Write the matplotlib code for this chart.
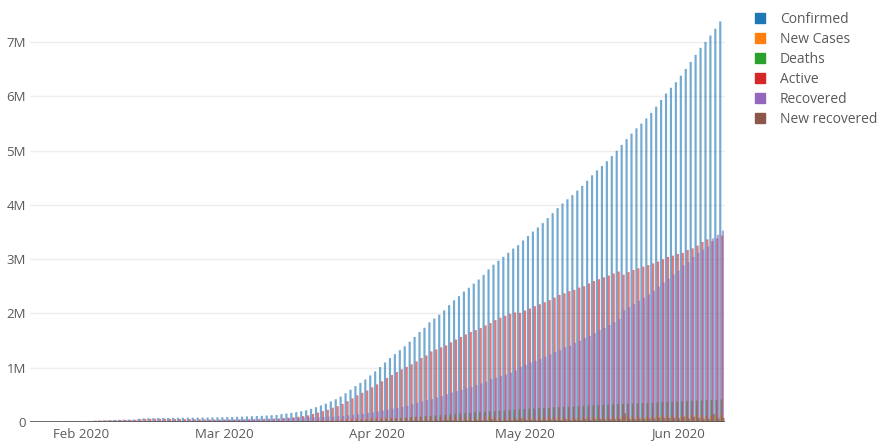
import matplotlib
matplotlib.use("Agg")
import matplotlib.pyplot as plt
import matplotlib.dates as mdates
from matplotlib.patches import Patch
from matplotlib.ticker import FixedLocator, FuncFormatter
import pandas as pd
import numpy as np

plt.rcParams['font.family'] = ['Open Sans', 'DejaVu Sans']

start_date = "2020-01-22"
end_date = "2020-06-10"

series_names = ["Confirmed", "New Cases", "Deaths", "Active", "Recovered", "New recovered"]
series_colors = ["#1f77b4", "#ff7f0e", "#2ca02c", "#d62728", "#9467bd", "#8c564b"]

# all values in thousands of people, one per day from Jan 22 to Jun 10 2020
confirmed_k = [
    0.555, 0.654, 0.941, 1.434, 2.118, 2.927, 5.578, 6.166, 8.234, 9.927,
    12.038, 16.787, 19.881, 23.892, 27.635, 30.794, 34.391, 37.120, 40.150, 42.762,
    44.802, 45.221, 60.368, 66.885, 69.030, 71.224, 73.258, 75.136, 75.639, 76.197,
    76.819, 78.572, 78.958, 79.561, 80.406, 81.388, 82.746, 84.112, 86.011,
    88.369, 90.306, 92.840, 95.120, 97.886, 101.801, 105.847, 109.821, 113.590, 118.620,
    125.875, 128.352, 145.205, 156.101, 167.454, 181.574, 197.102, 214.821, 242.570, 272.208,
    304.507, 336.953, 378.235, 418.045, 467.653, 529.591, 593.291, 660.706, 720.117, 782.365,
    857.487,
    932.605, 1013.157, 1095.917, 1176.060, 1249.754, 1321.481, 1396.476, 1479.804, 1565.278, 1657.526,
    1735.650, 1834.721, 1904.838, 1976.191, 2056.054, 2152.437, 2240.190, 2317.759, 2401.378, 2472.259,
    2549.123, 2623.960, 2708.885, 2811.193, 2896.746, 2971.475, 3041.764, 3116.398, 3193.886, 3256.846,
    3343.777, 3427.343, 3506.729, 3583.055, 3662.691, 3755.341, 3845.718, 3938.064, 4024.009, 4101.699,
    4177.502, 4261.747, 4347.018, 4442.163, 4542.347, 4634.068, 4713.620, 4801.943, 4897.492, 4996.472,
    5102.424, 5210.817, 5310.362, 5407.613, 5495.061, 5589.626, 5691.790, 5808.946, 5930.111, 6049.535,
    6155.064,
    6256.969, 6379.162, 6500.651, 6631.200, 6760.872, 6890.121, 7000.190, 7118.180, 7242.201, 7376.000,
]

new_cases_k = [
    0.0, 0.1, 0.3, 0.5, 0.7, 0.8, 2.7, 0.6, 2.1, 1.7,
    2.1, 4.7, 3.1, 4.0, 3.7, 3.2, 3.6, 2.7, 3.0, 2.6,
    2.0, 0.4, 15.1, 6.5, 2.1, 2.2, 2.0, 1.9, 0.5, 0.6,
    0.6, 1.8, 0.4, 0.6, 0.8, 1.0, 1.4, 1.4, 1.9,
    2.4, 1.9, 2.5, 2.3, 2.8, 3.9, 4.0, 4.0, 3.8, 5.0,
    7.3, 2.5, 16.9, 10.9, 11.4, 14.1, 15.5, 17.7, 27.7, 29.6,
    32.3, 32.4, 41.3, 39.8, 49.6, 61.9, 63.7, 67.4, 59.4, 62.2,
    75.1,
    75.1, 80.6, 82.8, 80.1, 73.7, 71.7, 75.0, 83.3, 85.5, 92.2,
    78.1, 99.1, 70.1, 71.4, 79.9, 96.4, 87.8, 77.6, 83.6, 70.9,
    76.9, 74.8, 84.9, 102.3, 85.6, 74.7, 70.3, 74.6, 77.5, 63.0,
    86.9, 83.6, 79.4, 76.3, 79.6, 92.7, 90.4, 92.3, 85.9, 77.7,
    75.8, 84.2, 85.3, 95.1, 100.2, 91.7, 79.6, 88.3, 95.5, 99.0,
    106.0, 108.4, 99.5, 97.3, 87.4, 94.6, 102.2, 117.2, 121.2, 119.4,
    105.5,
    101.9, 122.2, 121.5, 130.5, 129.7, 129.2, 110.1, 118.0, 124.0, 133.8,
]

deaths_k = [
    0.017, 0.018, 0.026, 0.042, 0.056, 0.082, 0.131, 0.133, 0.171, 0.213,
    0.259, 0.362, 0.426, 0.492, 0.564, 0.634, 0.719, 0.806, 0.906, 1.013,
    1.113, 1.118, 1.371, 1.523, 1.666, 1.770, 1.868, 2.007, 2.122, 2.247,
    2.251, 2.458, 2.469, 2.629, 2.708, 2.770, 2.814, 2.872, 2.941,
    2.996, 3.085, 3.160, 3.254, 3.348, 3.460, 3.558, 3.802, 3.988, 4.262,
    4.615, 4.720, 5.404, 5.819, 6.440, 7.126, 7.905, 8.733, 9.867, 11.299,
    12.973, 14.623, 16.497, 18.615, 21.181, 23.970, 27.198, 30.652, 33.925, 37.582,
    42.107,
    46.809, 52.983, 58.787, 64.606, 69.374, 74.565, 81.865, 88.338, 95.455, 102.525,
    108.503, 114.091, 119.481, 125.983, 134.176, 143.800, 153.821, 159.509, 165.044, 169.986,
    176.583, 183.027, 190.858, 197.159, 202.846, 206.568, 211.167, 217.153, 227.638, 233.388,
    238.650, 243.808, 247.470, 251.537, 257.239, 263.855, 269.567, 274.898, 279.311, 282.709,
    286.330, 291.942, 297.197, 302.418, 307.666, 311.781, 315.185, 318.481, 323.285, 328.115,
    332.924, 338.160, 342.097, 345.059, 346.232, 350.453, 355.629, 360.308, 364.867, 369.126,
    372.037,
    375.543, 380.249, 385.947, 391.136, 395.779, 399.847, 403.094, 406.543, 411.484, 416.201,
]

active_k = [
    0.5, 0.6, 0.9, 1.4, 2.0, 2.8, 5.3, 5.9, 7.9, 9.5,
    11.5, 16.0, 18.8, 22.5, 25.9, 28.7, 31.7, 33.7, 36.0, 37.8,
    39.0, 39.0, 52.7, 57.3, 58.0, 58.6, 58.8, 58.8, 57.4, 55.8,
    55.7, 53.2, 53.1, 51.7, 49.8, 48.2, 46.7, 44.5, 43.3,
    42.7, 41.6, 41.5, 40.7, 40.7, 42.5, 43.9, 45.3, 47.1, 50.0,
    54.3, 55.3, 69.6, 77.7, 85.0, 96.4, 108.4, 122.9, 147.8, 173.7,
    200.0, 224.4, 263.4, 291.5, 332.9, 383.5, 435.1, 490.6, 537.1, 580.2,
    637.3,
    692.6, 749.9, 811.3, 865.3, 920.4, 970.4, 1014.6, 1062.8, 1115.8, 1178.9,
    1225.0, 1298.9, 1336.7, 1375.9, 1410.9, 1466.5, 1518.0, 1565.9, 1612.4, 1656.5,
    1692.1, 1730.7, 1778.8, 1823.4, 1876.2, 1919.8, 1956.9, 1992.3, 2017.8, 2009.5,
    2052.7, 2090.4, 2134.0, 2168.8, 2206.6, 2246.1, 2291.4, 2341.1, 2369.1, 2410.0,
    2435.0, 2476.4, 2501.3, 2551.9, 2597.6, 2629.1, 2664.5, 2696.6, 2735.2, 2770.9,
    2712.9, 2760.5, 2799.7, 2830.8, 2861.9, 2889.1, 2920.2, 2955.4, 2996.2, 3039.4,
    3064.3,
    3094.4, 3115.5, 3168.7, 3198.0, 3250.4, 3316.3, 3364.3, 3330.5, 3382.0, 3433.8,
]

recovered_k = [
    0.028, 0.030, 0.036, 0.039, 0.052, 0.061, 0.107, 0.126, 0.143, 0.222,
    0.284, 0.472, 0.623, 0.852, 1.124, 1.487, 2.011, 2.616, 3.244, 3.946,
    4.683, 5.150, 6.295, 8.058, 9.395, 10.865, 12.583, 14.352, 16.121, 18.177,
    18.890, 22.886, 23.394, 25.227, 27.905, 30.384, 33.277, 36.711, 39.782,
    42.716, 45.602, 48.228, 51.170, 53.796, 55.865, 58.358, 60.694, 62.494, 64.404,
    67.003, 68.324, 70.251, 72.624, 76.034, 78.088, 80.840, 83.207, 84.854, 87.256,
    91.499, 97.899, 98.351, 107.890, 113.604, 122.150, 130.986, 139.415, 149.082, 164.566,
    178.034,
    193.177, 210.263, 225.796, 246.152, 260.012, 276.515, 300.054, 328.661, 353.975, 376.096,
    402.110, 421.722, 448.655, 474.261, 511.019, 542.107, 568.343, 592.319, 623.903, 645.738,
    680.400, 710.263, 739.273, 790.597, 817.722, 845.066, 873.726, 906.989, 948.425, 1013.921,
    1052.415, 1093.112, 1125.236, 1162.724, 1198.832, 1245.413, 1284.741, 1322.050, 1375.624, 1408.980,
    1456.209, 1493.414, 1548.547, 1587.893, 1637.067, 1693.197, 1733.963, 1786.875, 1838.995, 1897.466,
    2056.643, 2112.185, 2168.563, 2231.738, 2286.956, 2350.088, 2415.937, 2493.280, 2569.003, 2641.059,
    2718.688,
    2787.006, 2883.449, 2946.020, 3042.045, 3114.727, 3173.963, 3232.807, 3381.149, 3448.709, 3526.000,
]

new_recovered_k = [
    0.0, 0.0, 0.0, 0.0, 0.0, 0.0, 0.0, 0.0, 0.0, 0.1,
    0.1, 0.2, 0.2, 0.2, 0.3, 0.4, 0.5, 0.6, 0.6, 0.7,
    0.7, 0.5, 1.1, 1.8, 1.3, 1.5, 1.7, 1.8, 1.8, 2.1,
    0.7, 4.0, 0.5, 1.8, 2.7, 2.5, 2.9, 3.4, 3.1,
    2.9, 2.9, 2.6, 2.9, 2.6, 2.1, 2.5, 2.3, 1.8, 1.9,
    2.6, 1.3, 1.9, 2.4, 3.4, 2.1, 2.8, 2.4, 1.6, 2.4,
    4.2, 6.4, 0.5, 9.5, 5.7, 8.5, 8.8, 8.4, 9.7, 15.5,
    13.5,
    15.1, 17.1, 15.5, 20.4, 13.9, 16.5, 23.5, 28.6, 25.3, 22.1,
    26.0, 19.6, 26.9, 25.6, 36.8, 31.1, 26.2, 24.0, 31.6, 21.8,
    34.7, 29.9, 29.0, 51.3, 27.1, 27.3, 28.7, 33.3, 41.4, 65.5,
    38.5, 40.7, 32.1, 37.5, 36.1, 46.6, 39.3, 37.3, 53.6, 33.4,
    47.2, 37.2, 55.1, 39.3, 49.2, 56.1, 40.8, 52.9, 52.1, 58.5,
    159.2, 55.5, 56.4, 63.2, 55.2, 63.1, 65.8, 77.3, 75.7, 72.1,
    77.6,
    68.3, 96.4, 62.6, 96.0, 72.7, 59.2, 58.8, 148.3, 67.6, 77.3,
]

month_ticks = ["2020-02-01", "2020-03-01", "2020-04-01", "2020-05-01", "2020-06-01"]
month_labels = ["Feb 2020", "Mar 2020", "Apr 2020", "May 2020", "Jun 2020"]
y_ticks_m = [0, 1, 2, 3, 4, 5, 6, 7]

dates = pd.date_range(start_date, end_date, freq="D")
x = mdates.date2num(dates.to_pydatetime())
all_series = [confirmed_k, new_cases_k, deaths_k, active_k, recovered_k, new_recovered_k]

W, H = 889, 442
fig = plt.figure(figsize=(W / 100, H / 100), dpi=100)
left, right, top, bottom = 30, 725, 5, 422
ax = fig.add_axes([left / W, 1 - bottom / H, (right - left) / W, (bottom - top) / H])

n = len(all_series)
slot = 0.8 / n
for i, (vals, col) in enumerate(zip(all_series, series_colors)):
    offs = (i - (n - 1) / 2) * slot
    bars = ax.bar(x + offs, np.array(vals) * 1000, width=slot * 3.3, color=col,
                  linewidth=0, alpha=0.62, zorder=3)
    for b in bars:
        b.set_snap(False)

xl = mdates.date2num(pd.Timestamp("2020-02-01").to_pydatetime())
px_per_day = 4.93
ax.set_xlim(xl - (81 - left) / px_per_day, xl + (right - 81) / px_per_day)
ax.set_ylim(0, (bottom - top) / 54.3 * 1e6)

ax.yaxis.set_major_locator(FixedLocator([v * 1e6 for v in y_ticks_m]))
ax.yaxis.set_major_formatter(FuncFormatter(lambda v, p: "0" if v == 0 else f"{int(round(v / 1e6))}M"))
tick_x = [mdates.date2num(pd.Timestamp(t).to_pydatetime()) for t in month_ticks]
ax.set_xticks(tick_x)
ax.set_xticklabels(month_labels)

for s in ax.spines.values():
    s.set_visible(False)
ax.grid(axis="y", color="#eeeeee", linewidth=1, zorder=0)
ax.axhline(0, color="#555555", linewidth=1.2, zorder=4)
ax.tick_params(axis="both", length=0, labelsize=9.5, colors="#5a5a5a")
ax.tick_params(axis="x", pad=4)
ax.tick_params(axis="y", pad=3)

handles = [Patch(facecolor=c, edgecolor=c) for c in series_colors]
fig.legend(handles, series_names, loc="upper left", bbox_to_anchor=(755 / W, 1 - 12 / H),
           frameon=False, fontsize=10, labelcolor="#5a5a5a", handlelength=0.7, handleheight=0.7,
           handletextpad=1.1, labelspacing=0.36, borderaxespad=0, borderpad=0)

fig.savefig("out.png", dpi=100)
